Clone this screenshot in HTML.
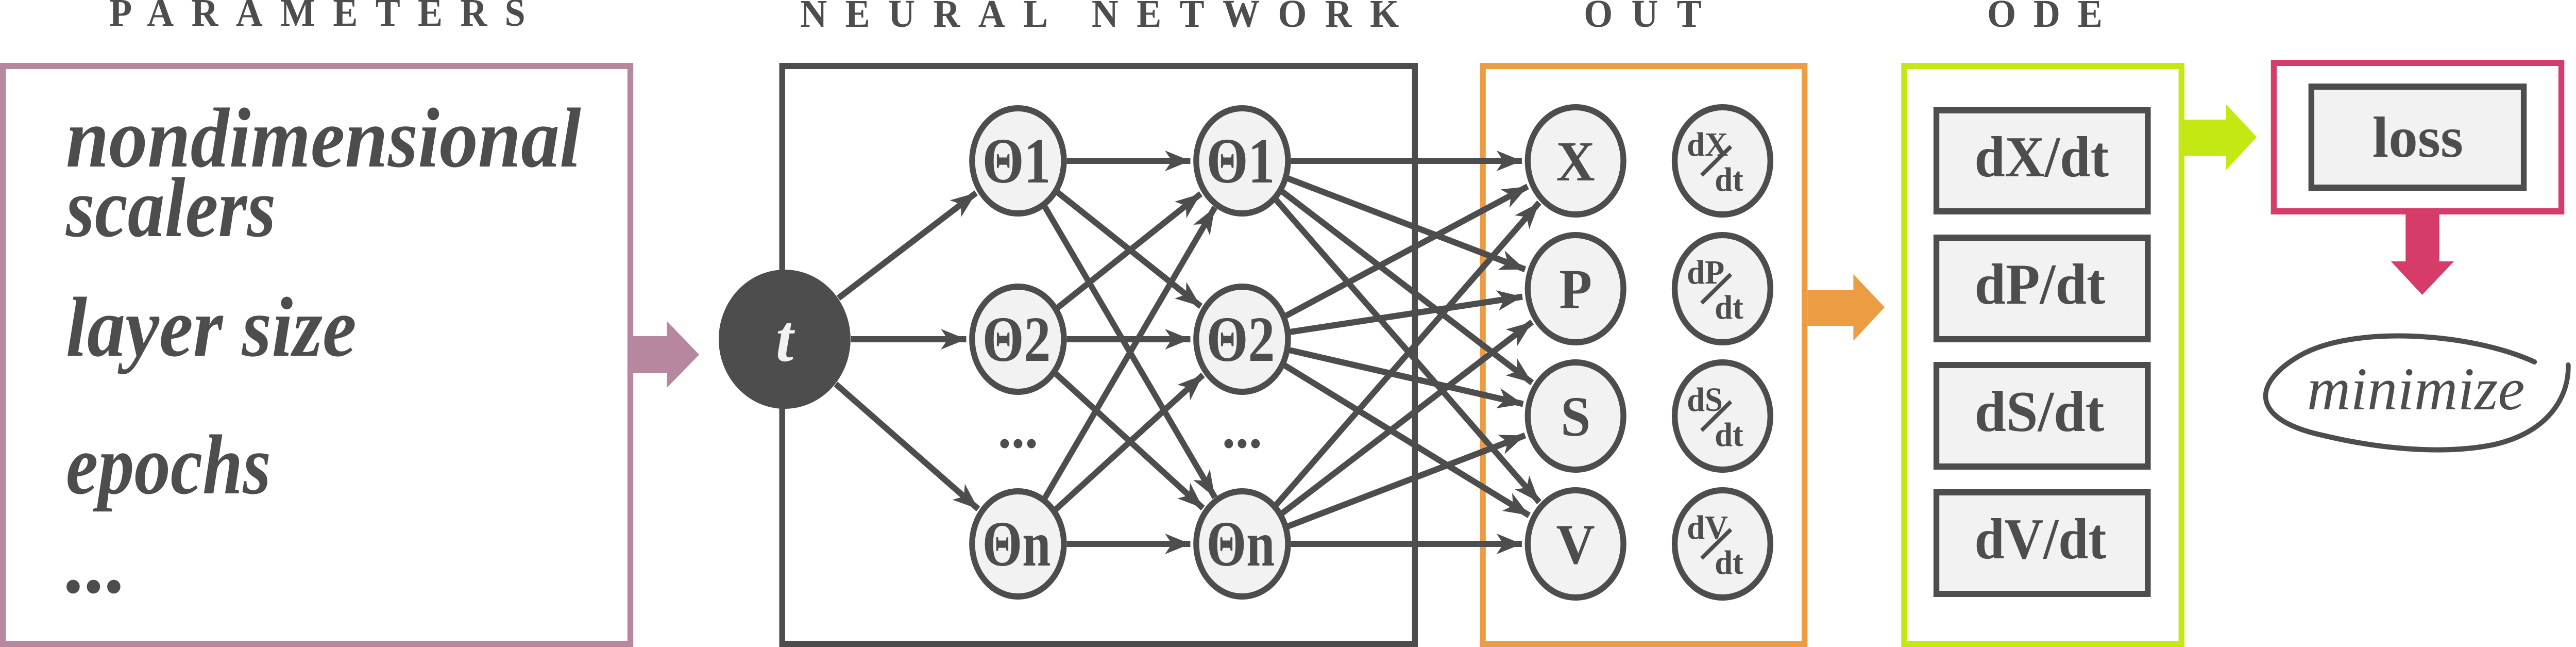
<!DOCTYPE html>
<html><head><meta charset="utf-8"><style>
html,body{margin:0;padding:0;background:#fff;width:100%;height:100%;overflow:hidden}
svg{display:block;position:absolute;left:0;top:0;width:100vw;height:100vh}
text{font-family:"Liberation Serif",serif;fill:#4d4d4d}
</style></head><body>
<svg id="s" viewBox="0 0 5276 1255" preserveAspectRatio="none" xmlns="http://www.w3.org/2000/svg">
<defs>
<marker id="ah" markerUnits="userSpaceOnUse" markerWidth="60" markerHeight="44" refX="52" refY="20" orient="auto">
<path d="M0,0 L52,20 L0,40 L14,20 Z" fill="#4d4d4d"/>
</marker>
</defs>
<g font-weight="bold" font-size="76">
<text x="224" y="50" textLength="852" lengthAdjust="spacing">PARAMETERS</text>
<text x="1639" y="52" textLength="1226" lengthAdjust="spacing">NEURAL NETWORK</text>
<text x="3244" y="52" textLength="241" lengthAdjust="spacing">OUT</text>
<text x="4070" y="52" textLength="236" lengthAdjust="spacing">ODE</text>
</g>
<rect x="6" y="128" width="1285" height="1121" fill="none" stroke="#b7869f" stroke-width="12"/>
<g font-weight="bold" font-style="italic" font-size="165">
<text x="135" y="323" textLength="1055" lengthAdjust="spacingAndGlyphs">nondimensional</text>
<text x="135" y="458" textLength="430" lengthAdjust="spacingAndGlyphs">scalers</text>
<text x="135" y="690" textLength="595" lengthAdjust="spacingAndGlyphs">layer size</text>
<text x="135" y="957" textLength="420" lengthAdjust="spacingAndGlyphs">epochs</text>
<text x="135" y="1149" textLength="125" lengthAdjust="spacingAndGlyphs">...</text>
</g>
<polygon points="1291,652 1366,652 1366,623 1432,688 1366,752 1366,724 1291,724" fill="#b7869f"/>
<rect x="1602" y="128" width="1296" height="1121" fill="none" stroke="#4d4d4d" stroke-width="12"/>
<rect x="3037" y="128" width="659" height="1121" fill="none" stroke="#ec9c42" stroke-width="12"/>
<polygon points="3702,562 3796,562 3796,532 3860,596 3796,661 3796,632 3702,632" fill="#ec9c42"/>
<rect x="3900" y="128" width="568" height="1121" fill="none" stroke="#c3e812" stroke-width="12"/>
<polygon points="4474,232 4559,232 4559,202 4622,266 4559,330 4559,302 4474,302" fill="#c3e812"/>
<g stroke="#4d4d4d" stroke-width="12" fill="#f2f2f2">
<rect x="3966" y="214" width="433" height="196"/>
<rect x="3966" y="461" width="433" height="197"/>
<rect x="3966" y="708" width="433" height="197"/>
<rect x="3966" y="955" width="433" height="197"/>
</g>
<g font-weight="bold" font-size="112">
<text x="4044" y="342" textLength="275" lengthAdjust="spacingAndGlyphs">dX/dt</text>
<text x="4044" y="589" textLength="268" lengthAdjust="spacingAndGlyphs">dP/dt</text>
<text x="4044" y="836" textLength="266" lengthAdjust="spacingAndGlyphs">dS/dt</text>
<text x="4044" y="1083" textLength="270" lengthAdjust="spacingAndGlyphs">dV/dt</text>
</g>
<rect x="4657" y="122" width="589" height="288" fill="none" stroke="#d63c6a" stroke-width="12"/>
<rect x="4734" y="168" width="435" height="196" fill="#f2f2f2" stroke="#4d4d4d" stroke-width="12"/>
<text x="4859" y="304" font-weight="bold" font-size="112" textLength="186" lengthAdjust="spacingAndGlyphs">loss</text>
<polygon points="4927,410 4996,410 4996,507 5026,507 4961,572 4897,507 4927,507" fill="#d63c6a"/>
<path d="M5191,702 C5060,645 4820,630 4710,690 C4610,745 4610,815 4760,845 C4880,872 5010,882 5110,862 C5230,835 5262,760 5260,708" fill="none" stroke="#4d4d4d" stroke-width="10" stroke-linecap="round"/>
<text x="4725" y="794" font-style="italic" font-size="118" textLength="446" lengthAdjust="spacingAndGlyphs">minimize</text>
<g id="edges" stroke="#4d4d4d" stroke-width="12" fill="none"></g>
<g id="nodes"></g>
</svg>
<script>
var NS="http://www.w3.org/2000/svg";
var t={x:1607,y:658,r:136};
var ys=[312,658,1055];
var L1=ys.map(function(y){return {x:2085,y:y,r:100};});
var L2=ys.map(function(y){return {x:2544,y:y,r:100};});
var oy=[312,560,807,1055];
var O=oy.map(function(y){return {x:3227,y:y,r:104};});
var eg=document.getElementById('edges');
function edge(a,b){
 var dx=b.x-a.x,dy=b.y-a.y,d=Math.sqrt(dx*dx+dy*dy);dx/=d;dy/=d;
 var l=document.createElementNS(NS,'line');
 l.setAttribute('x1',a.x+dx*a.r);l.setAttribute('y1',a.y+dy*a.r);
 l.setAttribute('x2',b.x-dx*(b.r+6));l.setAttribute('y2',b.y-dy*(b.r+6));
 l.setAttribute('marker-end','url(#ah)');eg.appendChild(l);
}
L1.forEach(function(n){edge(t,n);});
L1.forEach(function(a){L2.forEach(function(b){edge(a,b);});});
L2.forEach(function(a){O.forEach(function(b){edge(a,b);});});
var ng=document.getElementById('nodes');
function el(tag,attrs,txt){var e=document.createElementNS(NS,tag);for(var k in attrs)e.setAttribute(k,attrs[k]);if(txt)e.textContent=txt;ng.appendChild(e);return e;}
el('circle',{cx:1607,cy:658,r:135,fill:'#4d4d4d'});
el('text',{x:1607,y:700,'text-anchor':'middle','font-size':'130','font-weight':'bold','font-style':'italic',style:'fill:#f2f2f2'},'t');
var labs=['1','2','n'];
[2085,2544].forEach(function(x){
 ys.forEach(function(y,i){
  el('ellipse',{cx:x,cy:y,rx:94,ry:102,fill:'#f2f2f2',stroke:'#4d4d4d','stroke-width':'12'});
  el('text',{x:x-3,y:y+42,'text-anchor':'middle','font-size':'125','font-weight':'bold',textLength:'140',lengthAdjust:'spacingAndGlyphs'},'\u0398'+labs[i]);
 });
 el('text',{x:x,y:868,'text-anchor':'middle','font-size':'110','font-weight':'bold'},'...');
});
var on=['X','P','S','V'];
oy.forEach(function(y,i){
 el('ellipse',{cx:3227,cy:y,rx:98,ry:104,fill:'#f2f2f2',stroke:'#4d4d4d','stroke-width':'12'});
 el('text',{x:3227,y:y+38,'text-anchor':'middle','font-size':'110','font-weight':'bold'},on[i]);
 el('ellipse',{cx:3528,cy:y,rx:98,ry:104,fill:'#f2f2f2',stroke:'#4d4d4d','stroke-width':'12'});
 el('text',{x:3455,y:y-10,'font-size':'66','font-weight':'bold'},'d'+on[i]);
 el('line',{x1:3485,y1:y+28,x2:3545,y2:y-28,stroke:'#4d4d4d','stroke-width':'8'});
 el('text',{x:3512,y:y+58,'font-size':'66','font-weight':'bold'},'dt');
});
</script>
</body></html>
